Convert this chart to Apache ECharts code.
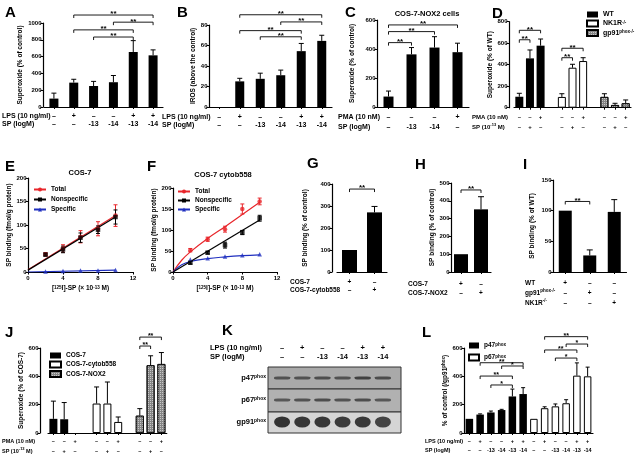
<!DOCTYPE html>
<html><head><meta charset="utf-8">
<script src="https://cdn.jsdelivr.net/npm/echarts@6/dist/echarts.min.js"></script>
<style>html,body{margin:0;padding:0;background:#fff}#c{width:640px;height:456px}</style>
</head><body><div id="c"></div>
<script>
// ================= DATA =================
// Panel A
const lpsA = ['–','+','–','–','+','+'];
const spA  = ['–','–','-13','-14','-13','-14'];
const supA = [100, 290, 250, 295, 655, 615];
const supAErr = [165, 330, 305, 375, 790, 680];
const sigA = [[1,5,1095],[3,5,1010],[1,4,918],[2,4,833]];
const sigAStars = ['**','**','**','**'];
// Panel B
const irosB = [null, 25, 27.5, 31, 54.5, 64.5];
const irosBErr = [null, 28, 33, 36, 62, 70];
const sigB = [[1,5,90],[3,5,83],[1,4,74.5],[2,4,68.5]];
const sigBStars = ['**','**','**','**'];
// Panel C
const pmaC = ['–','–','–','+'];
const spC  = ['–','-13','-14','–'];
const supC = [72, 363, 410, 378];
const supCErr = [110, 410, 485, 440];
const sigC = [[0,3,566],[0,2,520],[0,1,444]];
const sigCStars = ['**','**','**'];
// Panel D
const pmaD = ['–','–','+','','–','–','+','','–','–','+'];
const spD  = ['–','+','–','','–','+','–','','–','+','–'];
const dWT = [102, 459, 577], dWTErr = [134, 537, 639];
const dNK = [100, 372, 434], dNKErr = [130, 404, 465];
const dGP = [100, 25, 41],   dGPErr = [130, 41, 72];
const sigD = [[0,2,720],[0,1,632],[4,6,553],[4,5,465]];
const sigDStars = ['**','**','**','**'];
// Panel E
const concE = [2,4,6,8,10];
const eTotal = [38,50,75,92,120], eTotalSd = [3,8,13,15,23];
const eNon   = [37,48,73,90,117], eNonSd   = [3,7,10,8,15];
const eSpec  = [1,2,3,3,4],       eSpecSd  = [0,0,0,0,0];
const eTotalFit = [[0,5],[10,120]];
const eNonFit   = [[0,4],[10,117]];
const eSpecFit  = [[0,0],[10,4]];
// Panel F
const concF = [2,4,6,8,10];
const fTotal = [52,78,102,150,168], fTotalSd = [4,5,7,12,8];
const fNon   = [22,46,64,94,128],   fNonSd   = [3,3,7,5,7];
const fSpec  = [30,33,37,40,42],    fSpecSd  = [0,0,0,0,0];
const fTotalFit = [[0,0],[1,28],[2,48],[4,80],[6,108],[8,137],[10,166]];
const fNonFit   = [[0,0],[10,124]];
const fSpecFit  = [[0,0],[1,17],[2,25],[4,32],[6,36],[8,39],[10,41]];
// Panel G
const rowG1 = ['+','–'], rowG2 = ['–','+'];
const valG = [100, 271], valGErr = [null, 298];
const sigG = [[0,1,377]];
// Panel H
const rowH1 = ['+','–'], rowH2 = ['–','+'];
const valH = [100, 352], valHErr = [null, 423];
const sigH = [[0,1,461]];
// Panel I
const rowI1 = ['+','–','–'], rowI2 = ['–','+','–'], rowI3 = ['–','–','+'];
const valI = [100, 27, 98], valIErr = [null, 36, 118];
const sigI = [[0,1,115]];
// Panel J
const pmaJ = ['–','–','+','','–','–','+','','–','–','+'];
const spJ  = ['–','+','–','','–','+','–','','–','+','–'];
const jCos  = [100, 97, null], jCosErr  = [225, 215, null];
const jCyt  = [208, 208, 78],  jCytErr  = [325, 360, 113];
const jNox  = [122, 478, 487], jNoxErr  = [172, 545, 568];
const sigJ = [[8,10,677],[8,9,614]];
const sigJStars = ['**','**'];
// Panel K (western blot band intensities, 0..1 darkness)
const lpsK = ['–','+','–','–','+','+'];
const spK  = ['–','–','-13','-14','-13','-14'];
const proteinsK = ['p47','p67','gp91'];
const bandP47  = [0.62,0.62,0.66,0.62,0.78,0.68];
const bandP67  = [0.58,0.62,0.68,0.62,0.68,0.58];
const bandGp91 = [1.0,0.96,0.96,0.92,0.95,0.85];
// Panel L
const lpsL = ['–','+','–','–','+','+','–','+','–','–','+','+'];
const spL  = ['–','–','-13','-14','-13','-14','–','–','-13','-14','-13','-14'];
const lP47 = [100,130,145,162,258,275], lP47Err = [null,135,155,167,310,320];
const lP67 = [100,175,188,210,405,400], lP67Err = [null,185,205,235,495,465];
const sigL = [[1,5,496],[3,5,473],[1,4,402],[2,4,339],[7,11,680],[9,11,628],[7,10,586],[8,10,529]];
const sigLStars = ['**','*','**','*','**','*','**','*'];

// ================= BUILD =================
const FF = '"Liberation Sans", Arial, Helvetica, sans-serif';
const chart = echarts.init(document.getElementById('c'), null, {renderer:'canvas', width:640, height:456});
const opt = {animation:false, backgroundColor:'#fff', textStyle:{fontFamily:FF},
  grid:[], xAxis:[], yAxis:[], series:[], legend:[], graphic:{elements:[]}};
const AX = {show:true, lineStyle:{color:'#000', width:1.2}};
const TICK = {show:true, length:2.5, lineStyle:{color:'#000', width:1}};
const richSup = (fs) => ({sup:{fontSize:fs, fontWeight:'bold', fontFamily:FF, color:'#000', verticalAlign:'top', lineHeight:fs+1}});

function addPanel(g, xa, ya){
  const i = opt.grid.length;
  opt.grid.push(g); xa.gridIndex = i; ya.gridIndex = i;
  opt.xAxis.push(xa); opt.yAxis.push(ya); return i;
}
function yValue(min, max, interval, name, gap, o){
  o = o || {};
  return {type:'value', min, max, interval, offset:o.offset||0, axisLine:AX, axisTick:TICK,
    splitLine:{show:false},
    axisLabel:{fontSize:o.tick||6, fontWeight:'bold', color:'#000', margin:1.5, fontFamily:FF,
      formatter:(v) => String(v)},
    name, nameLocation:'middle', nameGap:gap,
    nameTextStyle:{fontSize:o.nameSize||6.5, fontWeight:'bold', color:'#000', fontFamily:FF, rich:richSup(4.5)}};
}
function xCat(rows, margin, lh, fs){
  return {type:'category', data:rows[0].map((_, i) => 'c' + i), boundaryGap:true,
    axisLine:AX,
    axisTick:{show:true, length:2, alignWithLabel:true, lineStyle:{color:'#000', width:1},
      interval:(i) => rows[0][i] !== ''},
    axisLabel:{interval:0, margin, lineHeight:lh, fontSize:fs, fontWeight:'bold', color:'#000', fontFamily:FF,
      formatter:(v, i) => rows.map(r => r[i]).join('\n')}};
}
function place(n, start, vals){ const a = new Array(n).fill(null); vals.forEach((v, k) => a[start + k] = v); return a; }
function bars(gi, data, style, width, name){
  opt.series.push({type:'bar', name, xAxisIndex:gi, yAxisIndex:gi, data, barWidth:width, barGap:'-100%',
    silent:true, itemStyle:style, z:2});
}
function errBars(gi, start, vals, tops, cap, color){
  const d = [];
  vals.forEach((v, k) => { if (v != null && tops[k] != null) d.push([start + k, v, tops[k]]); });
  opt.series.push({type:'custom', xAxisIndex:gi, yAxisIndex:gi, clip:false, silent:true, z:3,
    encode:{x:0, y:[1,2]}, data:d,
    renderItem:(p, api) => {
      const a = api.coord([api.value(0), api.value(1)]), b = api.coord([api.value(0), api.value(2)]);
      const w = cap / 2, st = {stroke:color||'#000', lineWidth:1};
      return {type:'group', children:[
        {type:'line', shape:{x1:a[0], y1:a[1], x2:b[0], y2:b[1]}, style:st},
        {type:'line', shape:{x1:b[0]-w, y1:b[1], x2:b[0]+w, y2:b[1]}, style:st}]};
    }});
}
function errSym(gi, xs, vals, sd, cap, color){
  const d = xs.map((x, k) => [x, vals[k] - sd[k], vals[k] + sd[k]]).filter((r, k) => sd[k] > 0);
  opt.series.push({type:'custom', xAxisIndex:gi, yAxisIndex:gi, clip:false, silent:true, z:3,
    encode:{x:0, y:[1,2]}, data:d,
    renderItem:(p, api) => {
      const a = api.coord([api.value(0), api.value(1)]), b = api.coord([api.value(0), api.value(2)]);
      const w = cap / 2, st = {stroke:color, lineWidth:1};
      return {type:'group', children:[
        {type:'line', shape:{x1:a[0], y1:a[1], x2:b[0], y2:b[1]}, style:st},
        {type:'line', shape:{x1:a[0]-w, y1:a[1], x2:a[0]+w, y2:a[1]}, style:st},
        {type:'line', shape:{x1:b[0]-w, y1:b[1], x2:b[0]+w, y2:b[1]}, style:st}]};
    }});
}
function brackets(gi, list, stars, leg, fs){
  opt.series.push({type:'custom', xAxisIndex:gi, yAxisIndex:gi, clip:false, silent:true, z:4,
    encode:{x:[0,1], y:2}, data:list,
    renderItem:(p, api) => {
      const a = api.coord([api.value(0), api.value(2)]), b = api.coord([api.value(1), api.value(2)]);
      return {type:'group', children:[
        {type:'polyline', shape:{points:[[a[0], a[1]+leg],[a[0], a[1]],[b[0], b[1]],[b[0], b[1]+leg]]},
          style:{stroke:'#000', lineWidth:0.9, fill:null}},
        {type:'text', x:(a[0]+b[0])/2, y:a[1]-0.8,
          style:{text:stars[p.dataIndex], align:'center', verticalAlign:'middle',
            font:`bold ${fs||8}px ${FF}`, fill:'#000'}}]};
    }});
}
function txt(t, x, y, size, o){
  o = o || {};
  opt.graphic.elements.push({type:'text', x, y, silent:true, z:10,
    style:{text:t, fill:'#000', font:`bold ${size}px ${FF}`, fontSize:size, fontWeight:'bold', fontFamily:FF,
      align:o.align||'left', verticalAlign:o.va||'middle', lineHeight:size+2,
      rich:o.sup ? {sup:{fontSize:o.sup, fontWeight:'bold', fontFamily:FF, fill:'#000', verticalAlign:'top', lineHeight:size+2}} : undefined}});
}
const BLACK = {color:'#000'};
const WHITE = {color:'#fff', borderColor:'#000', borderWidth:1};
const HATCH = {color:'#858585', borderColor:'#000', borderWidth:0.8,
  decal:{symbol:'rect', symbolSize:1, dashArrayX:[1,1], dashArrayY:[1,1], color:'rgba(255,255,255,0.55)'}};

// ---- A ----
let g = addPanel({left:44, top:23, width:119, height:84}, xCat([lpsA, spA], 5, 8, 7),
  yValue(0, 1000, 200, 'Superoxide (% of control)', 19.5, {offset:1}));
bars(g, supA, BLACK, 9);
errBars(g, 0, supA, supAErr, 5);
brackets(g, sigA, sigAStars, 3);
// ---- B ----
g = addPanel({left:209, top:25, width:123, height:82}, xCat([lpsA, spA], 6, 8, 7),
  yValue(0, 80, 20, 'IROS (above the control)', 12.5));
bars(g, irosB, BLACK, 9);
errBars(g, 0, irosB, irosBErr, 5);
brackets(g, sigB, sigBStars, 3);
// ---- C ----
g = addPanel({left:377, top:20, width:92, height:87}, xCat([pmaC, spC], 5, 10, 7),
  yValue(0, 600, 200, 'Superoxide (% of control)', 21));
bars(g, supC, BLACK, 10);
errBars(g, 0, supC, supCErr, 5);
brackets(g, sigC, sigCStars, 3);
// ---- D ----
g = addPanel({left:514, top:21.7, width:117, height:86}, xCat([pmaD, spD], 4.5, 10, 6),
  yValue(0, 800, 200, 'Superoxide (% of WT)', 12, {offset:5}));
bars(g, place(11, 0, dWT), BLACK, 8, 'WT');
bars(g, place(11, 4, dNK), WHITE, 8, 'NK1R');
bars(g, place(11, 8, dGP), HATCH, 8, 'gp91');
errBars(g, 0, dWT, dWTErr, 5);
errBars(g, 4, dNK, dNKErr, 5);
errBars(g, 8, dGP, dGPErr, 5);
brackets(g, sigD, sigDStars, 3);
opt.legend.push({data:['WT','NK1R','gp91'], orient:'vertical', left:586, top:11, padding:0, itemGap:1.5,
  itemWidth:11, itemHeight:6, icon:'rect', selectedMode:false,
  formatter:(n) => ({WT:'WT', NK1R:'NK1R{sup|-/-}', gp91:'gp91{sup|phox-/-}'})[n],
  textStyle:{fontSize:7, fontWeight:'bold', color:'#000', fontFamily:FF, lineHeight:7, rich:richSup(4.5)}});

// ---- E / F ----
function xyPanel(grid, yMax, ynameGap){
  return addPanel(grid,
    {type:'value', min:0, max:12, interval:4, axisLine:AX, axisTick:TICK, splitLine:{show:false},
      axisLabel:{fontSize:6, fontWeight:'bold', color:'#000', margin:3, fontFamily:FF},
      name:'[{sup|125}I]-SP (× 10{sup|-13} M)', nameLocation:'middle', nameGap:13,
      nameTextStyle:{fontSize:6.5, fontWeight:'bold', color:'#000', fontFamily:FF, rich:richSup(4.5)}},
    yValue(0, yMax, 50, 'SP binding (fmol/g protein)', ynameGap));
}
function xySeries(gi, xs, tot, totSd, non, nonSd, spec, specSd, totFit, nonFit, specFit, smoothT, smoothS){
  const defs = [
    ['Total', '#e8262b', 'circle', tot, totSd, totFit, smoothT],
    ['Specific', '#1f2fbf', 'triangle', spec, specSd, specFit, smoothS],
    ['Nonspecific', '#000', 'rect', non, nonSd, nonFit, false]];
  defs.forEach(([name, color, sym, v, sd, fit, sm]) => {
    opt.series.push({type:'line', name, xAxisIndex:gi, yAxisIndex:gi, data:fit, smooth:sm ? 0.4 : false,
      showSymbol:false, symbol:sym, symbolSize:5, silent:true, z:2,
      lineStyle:{color, width:1.2}, itemStyle:{color}});
    errSym(gi, xs, v, sd, 4, color);
    opt.series.push({type:'scatter', xAxisIndex:gi, yAxisIndex:gi, data:xs.map((x, k) => [x, v[k]]),
      symbol:sym, symbolSize:4.5, silent:true, z:4, itemStyle:{color}});
  });
}
g = xyPanel({left:28, top:178, width:105, height:94}, 200, 11.5);
xySeries(g, concE, eTotal, eTotalSd, eNon, eNonSd, eSpec, eSpecSd, eTotalFit, eNonFit, eSpecFit, false, false);
g = xyPanel({left:173, top:188, width:104, height:84}, 200, 12.5);
xySeries(g, concF, fTotal, fTotalSd, fNon, fNonSd, fSpec, fSpecSd, fTotalFit, fNonFit, fSpecFit, true, true);
const lgText = {fontSize:6.5, fontWeight:'bold', color:'#000', fontFamily:FF};
opt.legend.push({data:['Total','Nonspecific','Specific'], orient:'vertical', left:33, top:186, padding:0,
  itemGap:3, itemWidth:12, itemHeight:5, selectedMode:false, textStyle:lgText});
opt.legend.push({data:['Total','Nonspecific','Specific'], orient:'vertical', left:177, top:188, padding:0,
  itemGap:2, itemWidth:12, itemHeight:5, selectedMode:false, textStyle:lgText});

// ---- G ----
g = addPanel({left:337, top:184, width:50, height:88}, xCat([rowG1, rowG2], 6, 8, 6.5),
  yValue(0, 400, 100, 'SP binding (% of control)', 23, {offset:5}));
bars(g, valG, BLACK, 15);
errBars(g, 0, valG, valGErr, 6);
brackets(g, sigG, ['**'], 3);
// ---- H ----
g = addPanel({left:451, top:183, width:40, height:89}, xCat([rowH1, rowH2], 7.5, 9, 6.5),
  yValue(0, 500, 100, 'SP binding (% of control)', 15));
bars(g, valH, BLACK, 14);
errBars(g, 0, valH, valHErr, 6);
brackets(g, sigH, ['**'], 3);
// ---- I ----
g = addPanel({left:553, top:180, width:73.5, height:92}, xCat([rowI1, rowI2, rowI3], 6, 10, 6.5),
  yValue(0, 150, 50, 'SP binding (% of WT)', 17));
bars(g, valI, BLACK, 13);
errBars(g, 0, valI, valIErr, 6);
brackets(g, sigI, ['**'], 3);

// ---- J ----
g = addPanel({left:48, top:348, width:118.8, height:85}, xCat([pmaJ, spJ], 3, 10, 5.5),
  yValue(0, 600, 200, 'Superoxide (% of COS-7)', 12, {offset:8}));
bars(g, place(11, 0, jCos), BLACK, 8, 'COS-7');
bars(g, place(11, 4, jCyt), WHITE, 8, 'COS-7-cytob558');
bars(g, place(11, 8, jNox), HATCH, 8, 'COS-7-NOX2');
errBars(g, 0, jCos, jCosErr, 5);
errBars(g, 4, jCyt, jCytErr, 5);
errBars(g, 8, jNox, jNoxErr, 5);
brackets(g, sigJ, sigJStars, 3, 7);
opt.legend.push({data:['COS-7','COS-7-cytob558','COS-7-NOX2'], orient:'vertical', left:49, top:352, padding:0,
  itemGap:1.5, itemWidth:11, itemHeight:6, icon:'rect', selectedMode:false,
  textStyle:{fontSize:6.5, fontWeight:'bold', color:'#000', fontFamily:FF, lineHeight:6}});

// ---- K (blot) ----
g = addPanel({left:272, top:367, width:121, height:66},
  {type:'category', position:'top', data:lpsK.map((_, i) => 'l' + i), axisLine:{show:false}, axisTick:{show:false},
    axisLabel:{interval:0, margin:5.5, lineHeight:9, fontSize:7.5, fontWeight:'bold', color:'#000', fontFamily:FF,
      formatter:(v, i) => lpsK[i] + '\n' + spK[i]}},
  {type:'category', inverse:true, data:proteinsK, axisLine:{show:false}, axisTick:{show:false},
    axisLabel:{margin:6, fontSize:7.5, fontWeight:'bold', color:'#000', fontFamily:FF,
      formatter:(v) => v + '{sup|phox}', rich:richSup(5)}});
const bandSizes = [[16,3],[16,2.8],[16,11]];
const bandSymbols = ['roundRect','roundRect','circle'];
const bandData = [];
[bandP47, bandP67, bandGp91].forEach((row, r) => row.forEach((v, l) => bandData.push([l, r, v])));
opt.series.push({type:'scatter', xAxisIndex:g, yAxisIndex:g, data:bandData, silent:true, z:3,
  symbol:(val) => bandSymbols[val[1]], symbolSize:(val) => bandSizes[val[1]],
  itemStyle:{color:(p) => { const c = Math.round(140 - 130 * p.value[2]); return `rgb(${c},${c},${c})`; }}});
[['#a9a9a9', 367, 22], ['#b1b1b1', 389, 23], ['#d5d5d5', 412, 21]].forEach(([col, y, h]) => {
  opt.graphic.elements.push({type:'rect', x:268, y, shape:{width:133, height:h}, silent:true, z:0,
    style:{fill:col, stroke:'#333', lineWidth:1}});
});

// ---- L ----
g = addPanel({left:464, top:348, width:129, height:85}, xCat([lpsL, spL], 3.5, 9, 5.5),
  yValue(0, 600, 200, '% of control (/gp91{sup|phox})', 10));
bars(g, place(12, 0, lP47), BLACK, 7.5, 'p47');
bars(g, place(12, 6, lP67), WHITE, 7.5, 'p67');
errBars(g, 0, lP47, lP47Err, 4);
errBars(g, 6, lP67, lP67Err, 4);
brackets(g, sigL, sigLStars, 3, 7);
opt.legend.push({data:['p47','p67'], orient:'vertical', left:468, top:342, padding:0,
  itemGap:4.5, itemWidth:10, itemHeight:6, icon:'rect', selectedMode:false,
  formatter:(n) => n + '{sup|phox}',
  textStyle:{fontSize:6.5, fontWeight:'bold', color:'#000', fontFamily:FF, lineHeight:6, rich:richSup(4.5)}});

// ---- texts ----
[['A',5,12.5],['B',177,12.5],['C',345,12.5],['D',492,14],['E',5,167],['F',147,167],['G',307,164],
 ['H',415,165],['I',523,165],['J',5,333],['K',222,331],['L',422,333]].forEach(([t, x, y]) => txt(t, x, y, 15));
txt('COS-7-NOX2 cells', 427, 14, 7.5, {align:'center'});
txt('COS-7', 80, 173, 7.5, {align:'center'});
txt('COS-7 cytob558', 223, 175, 7.5, {align:'center'});
txt('LPS (10 ng/ml)', 2, 116, 7); txt('SP (logM)', 2, 124, 7);
txt('LPS (10 ng/ml)', 162, 117, 7); txt('SP (logM)', 162, 125, 7);
txt('PMA (10 nM)', 338, 117, 7); txt('SP (logM)', 338, 127, 7);
txt('PMA (10 nM)', 472, 117, 6); txt('SP (10{sup|-13} M)', 472, 127, 6, {sup:4});
txt('COS-7', 290, 282, 6.5); txt('COS-7-cytob558', 290, 290, 6.5);
txt('COS-7', 408, 284, 6.5); txt('COS-7-NOX2', 408, 293, 6.5);
txt('WT', 525, 283, 6.5); txt('gp91{sup|phox-/-}', 525, 293, 6.5, {sup:4.5}); txt('NK1R{sup|-/-}', 525, 303, 6.5, {sup:4.5});
txt('PMA (10 nM)', 2, 441, 5.5); txt('SP (10{sup|-13} M)', 2, 451, 5.5, {sup:4});
txt('LPS (10 ng/ml)', 210, 348, 7.5); txt('SP (logM)', 210, 357, 7.5);
txt('LPS (10 ng/ml)', 425, 441, 5.5); txt('SP (logM)', 425, 450, 5.5);

chart.setOption(opt);
</script></body></html>
